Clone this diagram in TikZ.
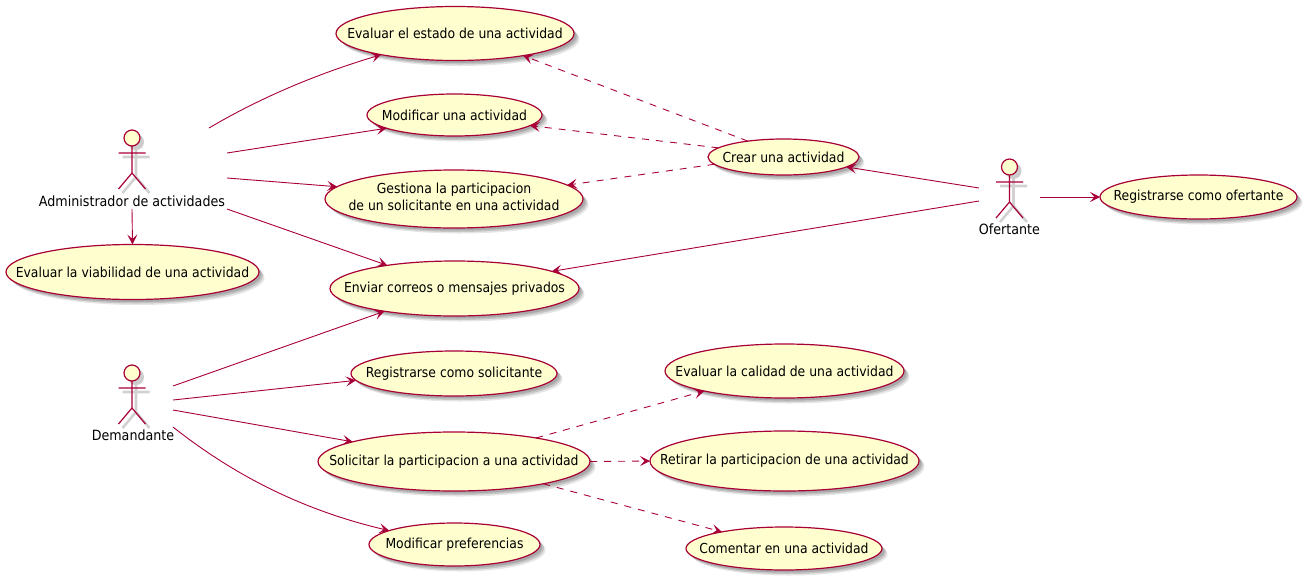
\documentclass[tikz,border=0pt]{standalone}
\usepackage{fontspec}
\setmainfont{DejaVu Sans Condensed}
\usetikzlibrary{shapes.geometric,shadows,arrows.meta}
\definecolor{umlline}{HTML}{A80036}
\definecolor{umlfill}{HTML}{FEFECE}
\newcommand{\uc}[1]{\makebox[0pt][c]{#1}}
\newcommand{\uctwo}[2]{\makebox[0pt][c]{\begin{tabular}{@{}c@{}}#1\\#2\end{tabular}}}
\tikzset{
  usecase/.style={ellipse,draw=umlline,fill=umlfill,line width=1.2pt,inner sep=0pt,outer sep=0pt,font=\fontsize{13.8}{17}\selectfont,
    general shadow={shadow xshift=2.5pt,shadow yshift=-2.5pt,fill=black,opacity=.14},
    general shadow={shadow xshift=4pt,shadow yshift=-4pt,fill=black,opacity=.14},
    general shadow={shadow xshift=5.5pt,shadow yshift=-5.5pt,fill=black,opacity=.10}},
  actorlabel/.style={font=\fontsize{14.1}{17}\selectfont,inner sep=0pt},
  actorhead/.style={circle,draw=umlline,fill=umlfill,line width=1.2pt,minimum size=16pt,inner sep=0pt,outer sep=0pt},
  actorbody/.style={draw=umlline,line width=1.2pt},
  actorshade/.style={draw=black!18,line width=2.6pt},
  solidlink/.style={draw=umlline,line width=.9pt,-{Stealth[length=10pt,width=10pt,inset=4.5pt]}},
  dashedlink/.style={solidlink,dash pattern=on 7pt off 7pt},
}
\newcommand{\umlactor}[6]{%
  \fill[black!20] (#2+4,#3+4) circle (8);
  \path[actorshade] (#2-13.5+4,#3+15+4) -- (#2+13.5+4,#3+15+4)
    (#2+4,#3+8+4) -- (#2+4,#3+35+4) -- (#2-13.5+4,#3+51+4)
    (#2+4,#3+35+4) -- (#2+13.5+4,#3+51+4);
  \path[actorbody] (#2,#3+8) -- (#2,#3+35) -- (#2-13.5,#3+51)
    (#2,#3+35) -- (#2+13.5,#3+51) (#2-13.5,#3+15) -- (#2+13.5,#3+15);
  \node[actorhead] (#1) at (#2,#3) {};
  \node[actorlabel] (#1label) at (#4,#5) {#6};
}
\begin{document}
\begin{tikzpicture}[x=1pt,y=-1pt]
\useasboundingbox (0,0) rectangle (1307,579);

\node[usecase,minimum width=238pt,minimum height=54pt] (estado) at (455,33.5) {\uc{Evaluar el estado de una actividad}};
\node[usecase,minimum width=175pt,minimum height=42pt] (modificar) at (454.5,115) {\uc{Modificar una actividad}};
\node[usecase,minimum width=258pt,minimum height=58pt] (gestiona) at (454,199) {\uctwo{Gestiona la participacion}{de un solicitante en una actividad}};
\node[usecase,minimum width=249pt,minimum height=55pt] (enviar) at (454.5,288.5) {\uc{Enviar correos o mensajes privados}};
\node[usecase,minimum width=206pt,minimum height=45pt] (regsol) at (454,373.5) {\uc{Registrarse como solicitante}};
\node[usecase,minimum width=272pt,minimum height=59pt] (solicitar) at (454,461.5) {\uc{Solicitar la participacion a una actividad}};
\node[usecase,minimum width=171pt,minimum height=43pt] (pref) at (454.5,544.5) {\uc{Modificar preferencias}};
\node[usecase,minimum width=151pt,minimum height=36pt] (crear) at (783.5,157) {\uc{Crear una actividad}};
\node[usecase,minimum width=239pt,minimum height=54pt] (calidad) at (784.5,371) {\uc{Evaluar la calidad de una actividad}};
\node[usecase,minimum width=269pt,minimum height=60pt] (retirar) at (784.5,461) {\uc{Retirar la participacion de una actividad}};
\node[usecase,minimum width=196pt,minimum height=43pt] (comentar) at (784,548.5) {\uc{Comentar en una actividad}};
\node[usecase,minimum width=197pt,minimum height=44pt] (regof) at (1198.5,197) {\uc{Registrarse como ofertante}};
\node[usecase,minimum width=253pt,minimum height=55pt] (viab) at (132.5,272) {\uc{Evaluar la viabilidad de una actividad}};

\umlactor{admin}{132}{138}{132}{201}{Administrador de actividades}
\umlactor{deman}{132}{373}{133}{435}{Demandante}
\umlactor{ofer}{1009.5}{167}{1009.5}{229}{Ofertante}

\coordinate (a1) at (209,128);
\coordinate (a2) at (227,153);
\coordinate (a3) at (227,178);
\coordinate (a4) at (227,209);
\coordinate (a5) at (132,209);
\coordinate (d1) at (173,386);
\coordinate (d2) at (173,400);
\coordinate (d3) at (173,410);
\coordinate (d4) at (173,427);
\coordinate (o1) at (979,188);
\coordinate (o2) at (979,201);
\coordinate (o3) at (1040,197);

\draw[solidlink] (a1) .. controls (270,92) and (330,70) .. (estado.196.3);
\draw[solidlink] (a2) -- (modificar.191);
\draw[solidlink] (a3) -- (gestiona.174.3);
\draw[solidlink] (a4) -- (enviar.161.8);
\draw[solidlink] (a5) -- (viab.90);
\draw[solidlink] (d1) -- (enviar.198.2);
\draw[solidlink] (d2) -- (regsol.184.2);
\draw[solidlink] (d3) -- (solicitar.169.9);
\draw[solidlink] (d4) .. controls (240,480) and (310,512) .. (pref.168.5);
\draw[solidlink] (o1) -- (crear.351.3);
\draw[solidlink] (o2) -- (enviar.10.2);
\draw[solidlink] (o3) -- (regof.180);
\draw[dashedlink] (crear.156.3) -- (estado.342.7);
\draw[dashedlink] (crear.172.7) -- (modificar.352.4);
\draw[dashedlink] (crear.186.8) -- (gestiona.7.1);
\draw[dashedlink] (solicitar.16.9) -- (calidad.194.5);
\draw[dashedlink] (solicitar.0) -- (retirar.180);
\draw[dashedlink] (solicitar.346.7) -- (comentar.165);
\end{tikzpicture}
\end{document}
